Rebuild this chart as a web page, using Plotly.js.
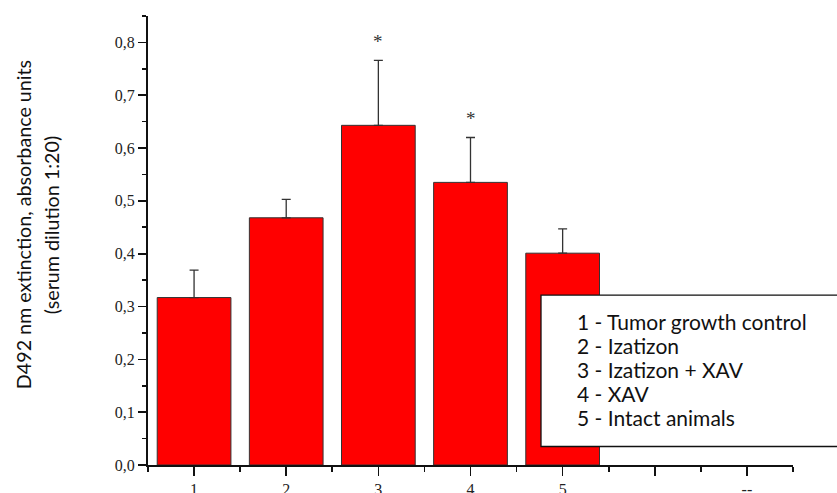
<!DOCTYPE html>
<html>
<head>
<meta charset="utf-8">
<script src="https://cdn.plot.ly/plotly-3.0.1.min.js"></script>
<style>html,body{margin:0;padding:0;background:#fff;}#chart{width:837px;height:493px;}</style>
</head>
<body>
<div id="chart"></div>
<script>
var groups = [1, 2, 3, 4, 5];
var means = [0.317, 0.468, 0.643, 0.535, 0.401];
var errors = [0.052, 0.035, 0.123, 0.085, 0.046];
var significant = [false, false, true, true, false];
var tickPositions = [1, 2, 3, 4, 5, 6, 7];
var tickLabels = ['1', '2', '3', '4', '5', '', '--'];
var legendLines = ['1 - Tumor growth control', '2 - Izatizon', '3 - Izatizon + XAV', '4 - XAV', '5 - Intact animals'];
var yTitleLines = ['D492 nm extinction, absorbance units', '(serum dilution 1:20)'];

var W = 837, H = 493, M = {l: 148, r: 44, t: 15.7, b: 28};
var plotW = W - M.l - M.r, plotH = H - M.t - M.b;
function px2x(p){ return (p - M.l) / plotW; }
function px2y(p){ return (H - M.b - p) / plotH; }

var trace = {
  type: 'bar',
  x: groups,
  y: means,
  width: 0.8,
  marker: {color: '#ff0000', line: {color: '#333333', width: 1}},
  error_y: {type: 'data', array: errors, symmetric: false, arrayminus: errors.map(function(){return 0;}), color: '#333333', thickness: 1.3, width: 4.5},
  hoverinfo: 'skip'
};

var annotations = [];
groups.forEach(function(g, i){
  if (significant[i]) {
    annotations.push({x: g, y: means[i] + errors[i], xref: 'x', yref: 'y', text: '*', showarrow: false,
      yanchor: 'middle', yshift: 19, font: {family: 'Liberation Serif', size: 19, color: '#333'}});
  }
});
legendLines.forEach(function(line, i){
  annotations.push({x: px2x(575), y: px2y(321 + i * 24.2), xref: 'paper', yref: 'paper', xanchor: 'left', yanchor: 'middle',
    text: line, showarrow: false, font: {family: 'Lato', size: 21, color: '#111'}});
});
yTitleLines.forEach(function(line, i){
  annotations.push({x: px2x(23 + i * 28), y: px2y(225), xref: 'paper', yref: 'paper', xanchor: 'center', yanchor: 'middle',
    text: line, showarrow: false, textangle: -90, font: {family: 'Lato', size: 19.7, color: '#111'}});
});

var layout = {
  width: W, height: H,
  margin: M,
  paper_bgcolor: '#fff', plot_bgcolor: '#fff',
  separators: ', ',
  showlegend: false,
  xaxis: {
    range: [0.5, 7.5], tickvals: tickPositions, ticktext: tickLabels,
    showline: true, linecolor: '#111', linewidth: 2, mirror: false, showgrid: false, zeroline: false,
    ticks: 'outside', ticklen: 9, tickwidth: 1.6, tickcolor: '#111',
    minor: {tick0: 0.5, dtick: 0.5, ticks: 'outside', ticklen: 5, tickwidth: 1.6, tickcolor: '#111', showgrid: false},
    tickfont: {family: 'Liberation Serif', size: 16, color: '#222'}
  },
  yaxis: {
    range: [0, 0.85], dtick: 0.1, tick0: 0, tickformat: '.1f',
    showline: true, linecolor: '#111', linewidth: 2, showgrid: false, zeroline: false,
    ticks: 'outside', ticklen: 8, tickwidth: 1.6, tickcolor: '#111',
    minor: {dtick: 0.05, ticks: 'outside', ticklen: 4, tickwidth: 1.6, tickcolor: '#111', showgrid: false},
    tickfont: {family: 'Liberation Serif', size: 16, color: '#222'}
  },
  shapes: [{type: 'rect', xref: 'paper', yref: 'paper', x0: px2x(541), x1: px2x(845), y0: px2y(446.5), y1: px2y(295),
    fillcolor: '#fff', line: {color: '#111', width: 1.3}, layer: 'above'}],
  annotations: annotations
};

Plotly.newPlot('chart', [trace], layout, {displayModeBar: false, staticPlot: true});
</script>
</body>
</html>
